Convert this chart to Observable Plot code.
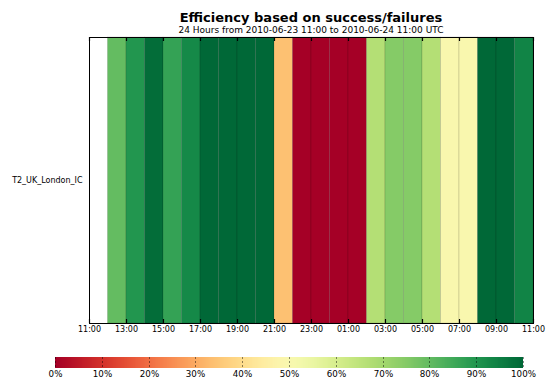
<!DOCTYPE html>
<html><head><meta charset="utf-8">
<script src="https://cdn.jsdelivr.net/npm/d3@7"></script>
<script src="https://cdn.jsdelivr.net/npm/@observablehq/plot@0.6"></script>
<style>
body{margin:0;background:#fff;}
#wrap{position:relative;width:546px;height:380px;font-family:"DejaVu Sans",sans-serif;overflow:hidden;background:#fff}
#title{position:absolute;left:0;width:622px;text-align:center;top:10.5px;font-size:13px;font-weight:bold;line-height:13px;color:#000}
#subtitle{position:absolute;left:0;width:622px;text-align:center;top:25.5px;font-size:9px;line-height:9px;color:#000}
#chart{position:absolute;left:0;top:0}
#legend{position:absolute;left:0;top:357px}
</style></head>
<body>
<div id="wrap">
  <div id="chart"></div>
  <div id="title">Efficiency based on success/failures</div>
  <div id="subtitle">24 Hours from 2010-06-23 11:00 to 2010-06-24 11:00 UTC</div>
  <div id="legend"></div>
</div>
<script>
const sites = ["T2_UK_London_IC"];
const startTime = "2010-06-23T11:00Z";
const endTime = "2010-06-24T11:00Z";
// efficiency (%) per hour, starting at 11:00; null = no data
const efficiency = [null, 80, 90, 99, 87, 93, 100, 100, 100, 100, 34, 0, 0, 0, 0, 67, 75, 75, 67, 50, 50, 100, 100, 94];
const legendTicks = [0, 10, 20, 30, 40, 50, 60, 70, 80, 90, 100];

const W = 546, H = 345, mT = 37, mB = 22, tickLen = 4;
const bandH = H - mT - mB;
const start = new Date(startTime), end = new Date(endTime);
const hourStarts = d3.utcHour.range(start, end);
const data = efficiency.map((v, i) => ({site: sites[0], start: hourStarts[i], end: d3.utcHour.offset(hourStarts[i], 1), value: v}));
const tickTimes = d3.utcHour.range(start, d3.utcHour.offset(end, 1), 2);
const tickData = tickTimes.map(t => ({t, site: sites[0]}));
const fmt = d3.utcFormat("%H:%M");
const colorOpts = {type: "linear", scheme: "RdYlGn", domain: [0, 100]};

const chart = Plot.plot({
  width: W, height: H,
  marginLeft: 89, marginRight: 13, marginTop: mT, marginBottom: mB,
  style: {fontFamily: "DejaVu Sans", fontSize: "8px", color: "#000", background: "transparent", overflow: "visible"},
  x: {type: "utc", domain: [start, end], label: null},
  y: {domain: sites, padding: 0, label: null},
  color: colorOpts,
  marks: [
    Plot.barX(data.filter(d => d.value != null), {x1: "start", x2: "end", y: "site", fill: "value", stroke: "#000", strokeOpacity: 0.2, strokeWidth: 0.6}),
    Plot.tickX(tickData, {x: "t", y: "site", insetBottom: bandH - tickLen, stroke: "#000", strokeWidth: 1.2}),
    Plot.tickX(tickData, {x: "t", y: "site", insetTop: bandH - tickLen, stroke: "#000", strokeWidth: 1.2}),
    Plot.frame({stroke: "#000", strokeWidth: 1}),
    Plot.axisX(tickTimes, {tickFormat: fmt, tickSize: 0, tickPadding: 3, label: null}),
    Plot.axisY({tickSize: 0, tickPadding: 7, label: null})
  ]
});
document.getElementById("chart").appendChild(chart);

const legend = Plot.legend({
  color: colorOpts,
  width: 546, height: 27, marginTop: 0, marginBottom: 16, marginLeft: 55, marginRight: 23,
  ticks: legendTicks.length - 1, tickFormat: d => d + "%", tickSize: 0, tickPadding: 3,
  style: {fontFamily: "DejaVu Sans", fontSize: "8.7px", color: "#000", background: "transparent"}
});
legend.querySelectorAll("line").forEach(l => { l.setAttribute("stroke-dasharray", "2,2"); l.setAttribute("stroke-opacity", "0.45"); });
document.getElementById("legend").appendChild(legend);
</script>
</body></html>
